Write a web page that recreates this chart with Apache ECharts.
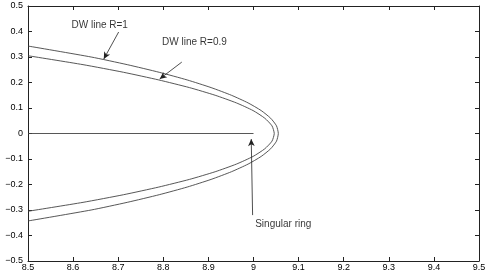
<!DOCTYPE html>
<html><head><meta charset="utf-8">
<script src="https://cdn.jsdelivr.net/npm/echarts@6/dist/echarts.min.js"></script>
<style>html,body{margin:0;padding:0;background:#fff}#c{width:491px;height:273px}</style>
</head><body><div id="c"></div>
<script>
// DW line R=1 (outer), points [x, y]
const dwR1 = [[8.5,-0.343],[8.640,-0.30],[8.720,-0.27],[8.791,-0.24],[8.853,-0.21],[8.906,-0.18],[8.951,-0.15],[8.988,-0.12],[9.017,-0.09],[9.038,-0.06],[9.051,-0.03],[9.055,0],[9.051,0.03],[9.038,0.06],[9.017,0.09],[8.988,0.12],[8.951,0.15],[8.906,0.18],[8.853,0.21],[8.791,0.24],[8.720,0.27],[8.640,0.30],[8.5,0.343]];
// DW line R=0.9 (inner)
const dwR09 = [[8.5,-0.305],[8.622,-0.27],[8.712,-0.24],[8.790,-0.21],[8.858,-0.18],[8.915,-0.15],[8.962,-0.12],[8.999,-0.09],[9.025,-0.06],[9.041,-0.03],[9.046,0],[9.041,0.03],[9.025,0.06],[8.999,0.09],[8.962,0.12],[8.915,0.15],[8.858,0.18],[8.790,0.21],[8.712,0.24],[8.622,0.27],[8.5,0.305]];
// Singular ring segment
const singular = [[8.5,0],[9.0,0]];
// annotations: text, text position, arrow start, arrow end
const annoTexts = ['DW line R=1','DW line R=0.9','Singular ring'];
const annoTextPos = [[8.659,0.425],[8.869,0.359],[9.066,-0.355]];
const arrowFrom = [[8.701,0.398],[8.841,0.280],[8.998,-0.320]];
const arrowTo = [[8.668,0.292],[8.792,0.214],[8.995,-0.022]];
const xTicks = [8.5,8.6,8.7,8.8,8.9,9,9.1,9.2,9.3,9.4,9.5];
const yTicks = [-0.5,-0.4,-0.3,-0.2,-0.1,0,0.1,0.2,0.3,0.4,0.5];

const font = 'Liberation Sans, Arial, Helvetica, sans-serif';
const lineCol = '#444';
const axisBase = {
  axisLine:{show:true,onZero:false,lineStyle:{color:'#222',width:1}},
  axisTick:{show:true,inside:true,length:4,lineStyle:{color:'#222',width:1}},
  splitLine:{show:false}
};
const chart = echarts.init(document.getElementById('c'));
chart.setOption({
  animation:false,
  backgroundColor:'#fff',
  grid:{left:28,right:12,top:6,bottom:12},
  xAxis:[
    Object.assign({type:'value',min:8.5,max:9.5,interval:0.1,position:'bottom',
      axisLabel:{color:'#000',fontSize:9,fontFamily:font,margin:2,
        formatter:v=>{const t=xTicks.find(a=>Math.abs(a-v)<1e-6);return t===undefined?'':String(t);}}},axisBase),
    Object.assign({type:'value',min:8.5,max:9.5,interval:0.1,position:'top',axisLabel:{show:false}},axisBase)
  ],
  yAxis:[
    Object.assign({type:'value',min:-0.5,max:0.5,interval:0.1,position:'left',
      axisLabel:{color:'#000',fontSize:9,fontFamily:font,margin:5,
        formatter:v=>{const t=yTicks.find(a=>Math.abs(a-v)<1e-6);return t===undefined?'':(t<0?'\u2212'+String(-t):String(t));}}},axisBase),
    Object.assign({type:'value',min:-0.5,max:0.5,interval:0.1,position:'right',axisLabel:{show:false}},axisBase)
  ],
  series:[
    {type:'line',data:dwR1,showSymbol:false,smooth:0.2,lineStyle:{color:lineCol,width:0.9}},
    {type:'line',data:dwR09,showSymbol:false,smooth:0.2,lineStyle:{color:lineCol,width:0.9}},
    {type:'line',data:singular,showSymbol:false,lineStyle:{color:lineCol,width:0.9},
      markLine:{silent:true,symbol:['none','arrow'],symbolSize:[5,7],
        lineStyle:{color:'#222',width:0.8,type:'solid'},label:{show:false},
        data:arrowFrom.map((p,i)=>[{coord:p},{coord:arrowTo[i]}])}},
    {type:'scatter',data:annoTextPos.map((p,i)=>({value:p,name:annoTexts[i]})),symbolSize:0,
      label:{show:true,position:'inside',formatter:p=>p.name,color:'#000',fontSize:10,fontFamily:font}}
  ]
});
</script></body></html>
